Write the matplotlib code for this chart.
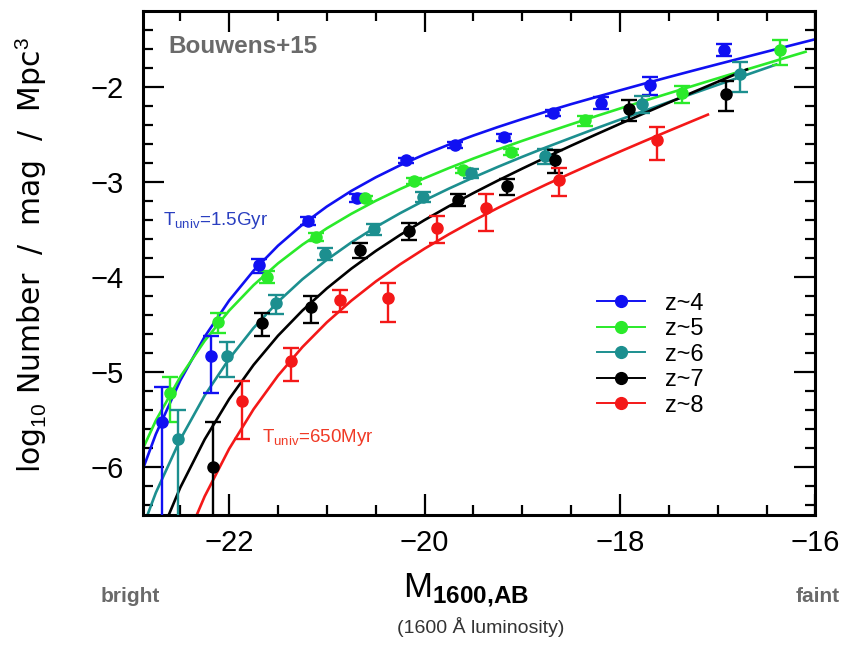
import numpy as np
import matplotlib
matplotlib.use("Agg")
import matplotlib.pyplot as plt
from matplotlib.lines import Line2D

plt.rcParams['font.family'] = ['Liberation Sans', 'DejaVu Sans']
plt.rcParams['mathtext.fontset'] = 'custom'
plt.rcParams['mathtext.rm'] = 'Liberation Sans'
plt.rcParams['mathtext.bf'] = 'Liberation Sans:bold'

# stepwise LF points, phi and error in units of 1e-3 / mag / Mpc^3
m_z4 = [-22.69, -22.19, -21.69, -21.19, -20.69, -20.19, -19.69, -19.19, -18.69, -18.19, -17.69, -16.94]
phi_z4 = [0.003, 0.015, 0.134, 0.393, 0.678, 1.696, 2.475, 2.984, 5.352, 6.865, 10.473, 24.580]
err_z4 = [0.004, 0.009, 0.023, 0.040, 0.063, 0.113, 0.185, 0.255, 0.446, 1.043, 2.229, 3.500]

m_z5 = [-22.61, -22.11, -21.61, -21.11, -20.61, -20.11, -19.61, -19.11, -18.36, -17.36, -16.36]
phi_z5 = [0.006, 0.034, 0.101, 0.265, 0.676, 1.029, 1.329, 2.085, 4.460, 8.600, 24.400]
err_z5 = [0.003, 0.008, 0.014, 0.025, 0.046, 0.067, 0.094, 0.171, 0.540, 1.760, 7.160]

m_z6 = [-22.52, -22.02, -21.52, -21.02, -20.52, -20.02, -19.52, -18.77, -17.77, -16.77]
phi_z6 = [0.002, 0.015, 0.053, 0.176, 0.320, 0.698, 1.246, 1.900, 6.680, 13.640]
err_z6 = [0.002, 0.006, 0.012, 0.025, 0.041, 0.083, 0.137, 0.350, 1.380, 4.680]

m_z7 = [-22.16, -21.66, -21.16, -20.66, -20.16, -19.66, -19.16, -18.66, -17.91, -16.91]
phi_z7 = [0.001, 0.033, 0.048, 0.193, 0.309, 0.654, 0.907, 1.717, 5.840, 8.500]
err_z7 = [0.002, 0.009, 0.015, 0.034, 0.061, 0.100, 0.177, 0.478, 1.460, 2.940]

m_z8 = [-21.87, -21.37, -20.87, -20.37, -19.87, -19.37, -18.62, -17.62]
phi_z8 = [0.005, 0.013, 0.058, 0.060, 0.331, 0.530, 1.060, 2.740]
err_z8 = [0.003, 0.005, 0.015, 0.026, 0.104, 0.226, 0.340, 1.040]

# fitted curves, log10 values
fit_m = [-23.0, -22.75, -22.5, -22.25, -22.0, -21.75, -21.5, -21.25, -21.0, -20.75, -20.5, -20.25,
         -20.0, -19.75, -19.5, -19.25, -19.0, -18.75, -18.5, -18.25, -18.0, -17.75, -17.5, -17.25,
         -17.0, -16.75, -16.5, -16.25, -16.0]
fit_z4 = [-6.344, -5.651, -5.087, -4.626, -4.246, -3.932, -3.669, -3.447, -3.257, -3.093, -2.950, -2.823,
          -2.709, -2.605, -2.510, -2.421, -2.337, -2.257, -2.180, -2.107, -2.035, -1.964, -1.895, -1.827,
          -1.760, -1.694, -1.628, -1.562, -1.497]
fit_z5 = [-6.066, -5.508, -5.049, -4.669, -4.352, -4.084, -3.855, -3.658, -3.486, -3.334, -3.197, -3.073,
          -2.959, -2.852, -2.752, -2.657, -2.566, -2.478, -2.392, -2.308, -2.226, -2.145, -2.066, -1.987,
          -1.908, -1.830, -1.753, -1.675]
fit_z6 = [-6.950, -6.267, -5.707, -5.244, -4.859, -4.534, -4.259, -4.022, -3.817, -3.635, -3.473, -3.327,
          -3.192, -3.068, -2.951, -2.840, -2.734, -2.632, -2.534, -2.437, -2.343, -2.250, -2.158, -2.067,
          -1.977, -1.888, -1.799]
fit_z7 = [-7.565, -6.824, -6.213, -5.706, -5.282, -4.923, -4.616, -4.351, -4.118, -3.911, -3.725, -3.556,
          -3.399, -3.253, -3.115, -2.984, -2.858, -2.736, -2.617, -2.501, -2.387, -2.275, -2.164, -2.054,
          -1.945, -1.836]
fit_z8 = [-8.533, -7.639, -6.907, -6.305, -5.806, -5.389, -5.036, -4.735, -4.475, -4.248, -4.046, -3.865,
          -3.700, -3.548, -3.406, -3.272, -3.145, -3.023, -2.906, -2.791, -2.679, -2.569, -2.461, -2.354]
# last point of each line (where the line stops)
fit_end_m = [-16.0, -16.1, -16.4, -16.7, -17.1]
fit_end_v = [-1.497, -1.629, -1.763, -1.815, -2.290]

labels = ['z~4', 'z~5', 'z~6', 'z~7', 'z~8']
colors = ['#1010f2', '#2aea2a', '#1c8f8f', '#000000', '#f41818']

data = [(m_z4, phi_z4, err_z4), (m_z5, phi_z5, err_z5), (m_z6, phi_z6, err_z6),
        (m_z7, phi_z7, err_z7), (m_z8, phi_z8, err_z8)]
fits = [fit_z4, fit_z5, fit_z6, fit_z7, fit_z8]

fig = plt.figure(figsize=(8.52, 6.46), dpi=100)
ax = fig.add_axes([0.168, 0.203, 0.789, 0.780])

for i in range(5):
    n = len(fits[i])
    fx = fit_m[:n] + [fit_end_m[i]]
    fy = fits[i] + [fit_end_v[i]]
    if fit_end_m[i] == fit_m[n - 1]:
        fx, fy = fx[:-1], fy[:-1]
    ax.plot(fx, fy, color=colors[i], lw=1.9, zorder=2)

for i, (m, phi, err) in enumerate(data):
    phi = np.array(phi) * 1e-3
    err = np.array(err) * 1e-3
    y = np.log10(phi)
    up = np.log10(phi + err) - y
    lo_lin = phi - err
    # error bars reaching zero run off the bottom of the plot
    lo = np.where(lo_lin > 0, y - np.log10(np.clip(lo_lin, 1e-12, None)), 5.0)
    ax.errorbar(m, y, yerr=[lo, up], fmt='o', color=colors[i], ms=8, elinewidth=1.7,
                capsize=5.5, capthick=1.7, zorder=3)

ax.set_xlim(-22.88, -16.0)
ax.set_ylim(-6.5, -1.2)
ax.set_xticks([-22, -20, -18, -16])
ax.set_xticklabels(['\u221222', '\u221220', '\u221218', '\u221216'])
ax.set_xticks(np.arange(-22.5, -16.0, 0.5), minor=True)
ax.set_yticks([-6, -5, -4, -3, -2])
ax.set_yticklabels(['\u22126', '\u22125', '\u22124', '\u22123', '\u22122'])
ax.set_yticks(np.arange(-6.4, -1.25, 0.2), minor=True)
ax.tick_params(which='both', direction='in', top=True, right=True, width=1.6)
ax.tick_params(which='major', length=15, labelsize=21)
ax.tick_params(which='minor', length=7.5)
ax.tick_params(axis='x', which='major', pad=10)
ax.tick_params(axis='y', which='major', pad=14)
for s in ax.spines.values():
    s.set_linewidth(2.2)

ax.set_ylabel('log$_{10}$ Number  /  mag  /  Mpc$^3$', fontsize=21.5, family=['DejaVu Sans'])
ax.yaxis.set_label_coords(-0.14, 0.516)

ax.text(0.037, 0.93, 'Bouwens+15', transform=ax.transAxes, fontsize=17.5, fontweight='bold',
        color='#6a6a6a', va='center')
ax.text(0.03, 0.585, 'T$_{\\rm univ}$=1.5Gyr', transform=ax.transAxes, fontsize=13.5,
        color='#2a3fc0', va='center')
ax.text(0.177, 0.153, 'T$_{\\rm univ}$=650Myr', transform=ax.transAxes, fontsize=13.5,
        color='#f03a26', va='center')

handles = [Line2D([0], [0], color=c, lw=1.4, marker='o', ms=8.5) for c in colors]
ax.legend(handles, labels, loc='center left', bbox_to_anchor=(0.644, 0.318), frameon=False,
          fontsize=17, handlelength=2.0, handletextpad=0.85, labelspacing=0.15)

fig.text(0.547, 0.087, 'M$_{\\mathbf{1600{,}AB}}$', fontsize=25, ha='center', va='center')
fig.text(0.564, 0.030, '(1600 \u00c5 luminosity)', fontsize=14, ha='center', va='center', color='#333333')
fig.text(0.153, 0.076, 'bright', fontsize=15, fontweight='bold', ha='center', va='center', color='#6a6a6a')
fig.text(0.960, 0.076, 'faint', fontsize=15, fontweight='bold', ha='center', va='center', color='#6a6a6a')

fig.savefig('out.png', dpi=100)
